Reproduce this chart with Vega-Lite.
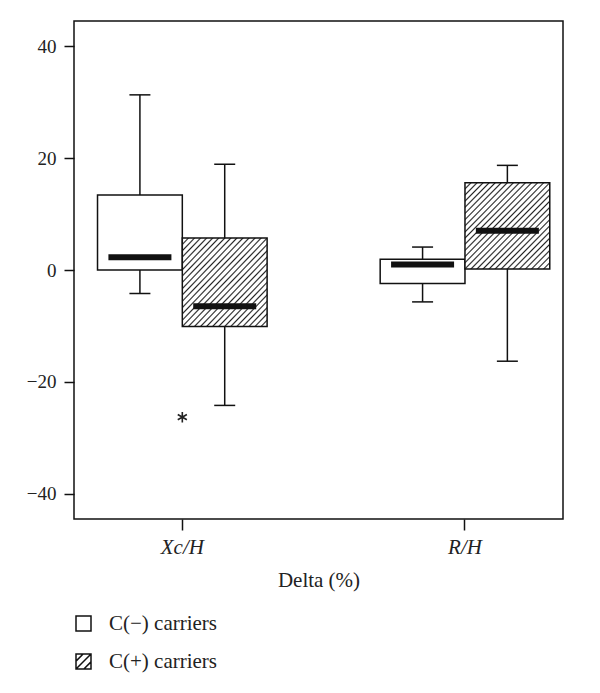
{
  "$schema": "https://vega.github.io/schema/vega-lite/v6.json",
  "width": 489,
  "height": 498,
  "autosize": "none",
  "padding": {"left": 74, "top": 21, "right": 37, "bottom": 174},
  "background": "white",
  "config": {
    "view": {"stroke": "#111", "strokeWidth": 1.5},
    "font": "Liberation Serif",
    "axis": {"domain": false, "grid": false, "tickColor": "#111", "tickWidth": 1.5, "labelColor": "#222", "titleColor": "#222", "labelFont": "Liberation Serif", "titleFont": "Liberation Serif"}
  },
  "datasets": {
    "boxes": [
      {"group": "Xc/H", "carrier": "C(−) carriers", "wlow": -4.2, "q1": 0.0, "median": 2.3, "q3": 13.4, "whigh": 31.3},
      {"group": "Xc/H", "carrier": "C(+) carriers", "wlow": -24.2, "q1": -10.1, "median": -6.5, "q3": 5.7, "whigh": 18.9},
      {"group": "R/H", "carrier": "C(−) carriers", "wlow": -5.7, "q1": -2.4, "median": 1.0, "q3": 1.9, "whigh": 4.1},
      {"group": "R/H", "carrier": "C(+) carriers", "wlow": -16.3, "q1": 0.2, "median": 7.0, "q3": 15.6, "whigh": 18.7}
    ],
    "outliers": [
      {"group": "Xc/H", "carrier": "C(+) carriers", "value": -26.3}
    ]
  },
  "data": {"name": "boxes"},
  "encoding": {
    "x": {
      "field": "group", "type": "nominal",
      "scale": {"domain": ["Xc/H", "R/H"], "paddingInner": 0.4, "paddingOuter": 0.065, "align": 0.64},
      "axis": {"title": "Delta (%)", "labelAngle": 0, "tickSize": 11, "labelFontSize": 21, "labelFontStyle": "italic", "labelPadding": 6, "titleFontSize": 21, "titleFontWeight": "normal", "titlePadding": 12}
    }
  },
  "layer": [
    {
      "mark": {"type": "bar", "size": 1.5, "color": "#111"},
      "encoding": {
        "xOffset": {"field": "carrier", "type": "nominal", "scale": {"domain": ["C(−) carriers", "C(+) carriers"], "paddingInner": 0, "paddingOuter": 0}},
        "y": {"field": "wlow", "type": "quantitative", "scale": {"domain": [-44.5, 44.5], "nice": false, "zero": false},
          "axis": {"title": null, "values": [-40, -20, 0, 20, 40], "tickSize": 10, "labelFontSize": 19, "labelPadding": 8, "labelExpr": "replace(format(datum.value, 'd'), '-', '−')"}},
        "y2": {"field": "whigh"}
      }
    },
    {
      "mark": {"type": "tick", "size": 21, "thickness": 1.5, "color": "#111", "opacity": 1},
      "encoding": {
        "xOffset": {"field": "carrier", "type": "nominal"},
        "y": {"field": "wlow", "type": "quantitative"}
      }
    },
    {
      "mark": {"type": "tick", "size": 21, "thickness": 1.5, "color": "#111", "opacity": 1},
      "encoding": {
        "xOffset": {"field": "carrier", "type": "nominal"},
        "y": {"field": "whigh", "type": "quantitative"}
      }
    },
    {
      "transform": [{"filter": "datum.carrier === 'C(−) carriers'"}],
      "mark": {"type": "bar", "stroke": "#111", "strokeWidth": 1.5, "opacity": 1, "fill": "white"},
      "encoding": {
        "xOffset": {"field": "carrier", "type": "nominal"},
        "y": {"field": "q1", "type": "quantitative"},
        "y2": {"field": "q3"}
      }
    },
    {
      "transform": [{"filter": "datum.carrier === 'C(+) carriers'"}],
      "mark": {"type": "bar", "stroke": "#111", "strokeWidth": 1.5, "opacity": 1, "fill": {"gradient": "linear", "x1": 0, "y1": 0, "x2": 1, "y2": 1, "stops": [
            {"offset": 0, "color": "#222"}, {"offset": 0.009, "color": "white"},
            {"offset": 0.0267, "color": "white"}, {"offset": 0.0357, "color": "#222"}, {"offset": 0.0447, "color": "white"},
            {"offset": 0.0624, "color": "white"}, {"offset": 0.0714, "color": "#222"}, {"offset": 0.0804, "color": "white"},
            {"offset": 0.0981, "color": "white"}, {"offset": 0.1071, "color": "#222"}, {"offset": 0.1161, "color": "white"},
            {"offset": 0.1339, "color": "white"}, {"offset": 0.1429, "color": "#222"}, {"offset": 0.1519, "color": "white"},
            {"offset": 0.1696, "color": "white"}, {"offset": 0.1786, "color": "#222"}, {"offset": 0.1876, "color": "white"},
            {"offset": 0.2053, "color": "white"}, {"offset": 0.2143, "color": "#222"}, {"offset": 0.2233, "color": "white"},
            {"offset": 0.241, "color": "white"}, {"offset": 0.25, "color": "#222"}, {"offset": 0.259, "color": "white"},
            {"offset": 0.2767, "color": "white"}, {"offset": 0.2857, "color": "#222"}, {"offset": 0.2947, "color": "white"},
            {"offset": 0.3124, "color": "white"}, {"offset": 0.3214, "color": "#222"}, {"offset": 0.3304, "color": "white"},
            {"offset": 0.3481, "color": "white"}, {"offset": 0.3571, "color": "#222"}, {"offset": 0.3661, "color": "white"},
            {"offset": 0.3839, "color": "white"}, {"offset": 0.3929, "color": "#222"}, {"offset": 0.4019, "color": "white"},
            {"offset": 0.4196, "color": "white"}, {"offset": 0.4286, "color": "#222"}, {"offset": 0.4376, "color": "white"},
            {"offset": 0.4553, "color": "white"}, {"offset": 0.4643, "color": "#222"}, {"offset": 0.4733, "color": "white"},
            {"offset": 0.491, "color": "white"}, {"offset": 0.5, "color": "#222"}, {"offset": 0.509, "color": "white"},
            {"offset": 0.5267, "color": "white"}, {"offset": 0.5357, "color": "#222"}, {"offset": 0.5447, "color": "white"},
            {"offset": 0.5624, "color": "white"}, {"offset": 0.5714, "color": "#222"}, {"offset": 0.5804, "color": "white"},
            {"offset": 0.5981, "color": "white"}, {"offset": 0.6071, "color": "#222"}, {"offset": 0.6161, "color": "white"},
            {"offset": 0.6339, "color": "white"}, {"offset": 0.6429, "color": "#222"}, {"offset": 0.6519, "color": "white"},
            {"offset": 0.6696, "color": "white"}, {"offset": 0.6786, "color": "#222"}, {"offset": 0.6876, "color": "white"},
            {"offset": 0.7053, "color": "white"}, {"offset": 0.7143, "color": "#222"}, {"offset": 0.7233, "color": "white"},
            {"offset": 0.741, "color": "white"}, {"offset": 0.75, "color": "#222"}, {"offset": 0.759, "color": "white"},
            {"offset": 0.7767, "color": "white"}, {"offset": 0.7857, "color": "#222"}, {"offset": 0.7947, "color": "white"},
            {"offset": 0.8124, "color": "white"}, {"offset": 0.8214, "color": "#222"}, {"offset": 0.8304, "color": "white"},
            {"offset": 0.8481, "color": "white"}, {"offset": 0.8571, "color": "#222"}, {"offset": 0.8661, "color": "white"},
            {"offset": 0.8839, "color": "white"}, {"offset": 0.8929, "color": "#222"}, {"offset": 0.9019, "color": "white"},
            {"offset": 0.9196, "color": "white"}, {"offset": 0.9286, "color": "#222"}, {"offset": 0.9376, "color": "white"},
            {"offset": 0.9553, "color": "white"}, {"offset": 0.9643, "color": "#222"}, {"offset": 0.9733, "color": "white"},
            {"offset": 0.991, "color": "white"}, {"offset": 1, "color": "#222"}
          ]}},
      "encoding": {
        "xOffset": {"field": "carrier", "type": "nominal"},
        "y": {"field": "q1", "type": "quantitative"},
        "y2": {"field": "q3"}
      }
    },
    {
      "mark": {"type": "tick", "size": 63, "thickness": 6, "color": "#111", "opacity": 1},
      "encoding": {
        "xOffset": {"field": "carrier", "type": "nominal"},
        "y": {"field": "median", "type": "quantitative"}
      }
    },
    {
      "transform": [{"filter": "false"}],
      "mark": {"type": "point", "filled": false, "stroke": "#111", "strokeWidth": 1.5, "opacity": 1},
      "encoding": {
        "xOffset": {"field": "carrier", "type": "nominal"},
        "y": {"field": "median", "type": "quantitative"},
        "shape": {
          "field": "carrier", "type": "nominal",
          "scale": {"domain": ["C(−) carriers", "C(+) carriers"], "range": ["M-1,-1H1V1H-1Z", "M-1,-1H1V1H-1ZM-1,1L1,-1M-1,-0.05L-0.05,-1M0.05,1L1,0.05"]},
          "legend": {
            "title": null, "orient": "none", "legendX": -1, "legendY": 592, "direction": "vertical",
            "symbolSize": 225, "symbolStrokeColor": "#111", "symbolStrokeWidth": 1.5, "symbolOpacity": 1, "symbolFillColor": "white",
            "labelFont": "Liberation Serif", "labelFontSize": 21, "labelColor": "#222", "labelOffset": 15, "rowPadding": 16
          }
        }
      }
    },
    {
      "data": {"name": "outliers"},
      "mark": {"type": "point", "shape": "M0,-1L0,1M-0.87,-0.5L0.87,0.5M-0.87,0.5L0.87,-0.5", "size": 110, "filled": false, "stroke": "#222", "strokeWidth": 1.6, "opacity": 1},
      "encoding": {
        "y": {"field": "value", "type": "quantitative"}
      }
    }
  ]
}
